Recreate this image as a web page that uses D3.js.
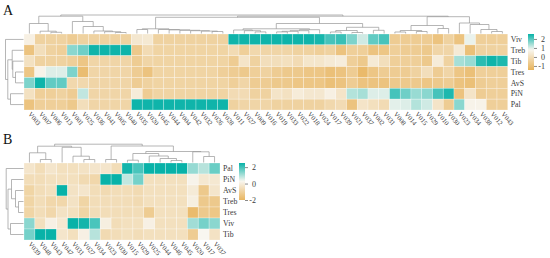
<!DOCTYPE html>
<html>
<head>
<meta charset="utf-8">
<script src="https://cdn.jsdelivr.net/npm/d3@7/dist/d3.min.js"></script>
<style>
    html, body { margin: 0; padding: 0; background: #fff; }
    svg { display: block; font-family: "Liberation Serif", serif; }
</style>
</head>
<body>
<svg id="chart" width="550" height="258"></svg>
<script>
// Panel A
const colsA = ["V003","V007","V006","V013","V001","V025","V036","V041","V005","V040","V035","V020","V045","V044","V004",
    "V042","V032","V026","V028","V011","V027","V009","V016","V019","V033","V022","V018","V024","V017","V039",
    "V021","V037","V002","V031","V008","V014","V015","V029","V010","V030","V023","V034","V038","V012","V043"];
const rowsA = ["Viv","Treb","Tib","Tres","AvS","PiN","Pal"];

const vivA  = [.6,-.4,-.4,-.4,-.6,-.4,-.4,-.4,-.4,-.4,.3,.35,-.4,-.4,-.4,-.4,-.4,-.4,-.4,2.5,2.5,2.5,2.5,2.5,2.5,2.5,2.5,2.45,2.1,2.2,1.7,1.1,1.9,2.1,-.6,-.6,-.6,-.6,-.9,-.4,-.9,.9,-.5,-.5,-.5];
const trebA = [-.9,0,-.4,-.5,1.6,1.8,2.5,2.5,2.5,2.5,-.7,-.1,-.35,-.35,-.35,-.35,-.35,-.35,-.35,-.1,-.5,-.2,-.3,-.3,-.3,-.4,-.4,-.5,-.4,-.9,-.5,-.5,-.9,-.8,-.5,-.6,-.6,-.7,-.3,-.3,.4,-1,-.4,-.4,-.4];
const tibA  = [.1,-.4,-.4,-.4,-.5,-.8,-.3,-.3,-.3,-.3,-.6,-.3,-.35,-.35,-.35,-.35,-.35,-.35,-.35,-.6,.2,-.4,0,0,.05,-.1,.25,.25,.4,.5,-.5,-.7,.4,0,-.5,-.5,-.5,-.7,.45,-.4,1.4,1.5,2.3,2.5,2.4];
const tresA = [-.8,.7,1,1,1.7,-1.1,-.3,-.3,-.3,-.3,-.6,-.9,-.35,-.35,-.35,-.35,-.35,-.35,-.5,-.6,-.7,-.5,-.4,-.6,-.7,-.7,-.8,-.8,-1,-.9,-.6,-1.2,-.8,-.6,-.6,-.6,-.4,0,-.6,-.3,-.8,-1,-.5,-.5,-.5];
const avsA  = [1.7,2.5,1.9,1.9,-.2,-.2,-.3,-.3,-.3,-.3,-.6,-.4,-.35,-.35,-.35,-.35,-.35,-.35,-.35,-.5,-.3,-.6,-.6,-.7,-.7,-.8,-.8,-.8,-1,-.9,-.6,-.9,-.9,-.9,-.7,-.7,-.7,-.8,-.7,-.6,-.9,-1,-.6,-.5,-.5];
const pinA  = [.1,-.5,-.5,-.4,-.6,1.2,-.3,-.3,-.3,-.3,.45,-.6,-.35,-.35,-.35,-.35,-.35,-.35,-.35,-.1,-.1,-.4,-.4,.2,.1,.45,.3,.3,.6,.2,1.3,1.4,1,1,2.1,1.8,1.5,1.6,2.1,2.4,-.9,.2,-.6,-.5,-.5];
const palA  = [-.9,-.5,-.5,-.5,-.7,0,-.3,-.3,-.3,-.3,2.5,2.5,2.5,2.5,2.5,2.5,2.5,2.5,2.5,-.4,-.3,-.3,-.3,-.4,-.4,-.4,-.4,-.4,-.2,-.1,-.9,.2,.05,-.1,.95,1,1.3,1.1,.2,-.6,1.6,.7,.7,-.5,-.5];

const tickA = [2, 1, 0, -1];

// merges are [distance, left, right], a leaf is just its label
const topTreeA = [18.5,
    [17.3,
        [10, "V003", [2.3, "V007", [1.2, "V006", "V013"]]],
        [12, "V001", [7, "V025", [2.5, "V036", [1.8, "V041", [1, "V005", "V040"]]]]]],
    [17.3,
        [16.2,
            [4.7, [4, "V035", "V020"],
                [4, "V045", [3.6, "V044", [3.2, "V004", [2.8, "V042", [2.4, "V032", [2, "V026", "V028"]]]]]]],
            [10,
                [4.7,
                    [3.5, "V011", [2.8, "V027", [1.6, "V009", "V016"]]],
                    [3.8, [2.8, [2.2, [1.6, "V019", "V033"], "V022"], "V018"], "V024"]],
                [6.2,
                    [3, [1.5, "V017", "V039"], [1, "V021", "V037"]],
                    [3.2, "V002", "V031"]]]],
        [16.8,
            [8,
                [3, [1.5, "V008", "V014"], [2, "V015", "V029"]],
                [5, "V010", "V030"]],
            [10.5, "V023", [9, "V034", [4, "V038", [2, "V012", "V043"]]]]]]];

const sideTreeA = [18, "Viv",
    [15.7,
        [11.3, "Treb", [10.7, "Tib", [8, "Tres", "AvS"]]],
        [13, "PiN", "Pal"]]];

// Panel B
const colsB = ["V039","V048","V043","V047","V031","V027","V034","V023","V030","V015","V029","V025","V044","V046","V045","V020","V017","V037"];
const rowsB = ["Pal","PiN","AvS","Treb","Tres","Viv","Tib"];

const palB  = [-.3,-.6,-.3,-.5,-.5,-.4,-.3,-.3,-.6,2.4,1.9,2.5,2.5,2.5,2.5,1.2,.9,1.6];
const pinB  = [-.6,-.6,-.5,-.5,-.5,-.7,-.8,2.5,2.5,.8,1.5,-.5,-.5,-.5,-.5,.2,-.2,-.2];
const avsB  = [-.9,-.6,-.5,2.5,-.4,-.3,-.6,-.7,-.6,-.6,-.7,-.5,-.5,-.5,-.5,-.1,-1.3,-.3];
const trebB = [-.9,-.6,-.8,-.8,-.4,-.9,-.6,-.6,-.6,-.6,-.7,-.5,-.5,-.5,-.5,.05,-1.3,-1.3];
const tresB = [-.9,-.6,-.8,-.4,-.5,-.9,-.6,-.6,-.6,-.6,-.6,-1.2,-.5,-.5,-.5,-1.8,-1.3,-1.4];
const vivB  = [1.3,-.5,.1,-.2,2.5,2.4,1.9,.05,-.6,-.5,-.5,.1,-.5,-.5,-.5,1.1,1.5,1.3];
const tibB  = [1.5,2.5,2.5,-.3,-.5,.1,.9,-.7,-.6,-.5,-.6,-.5,-.5,-.5,-.5,-1.2,.3,-.4];

const tickB = [2, 0, -2];

const topTreeB = [18.3,
    [16.3,
        [9.7, "V039", [3, "V048", "V043"]],
        [15.2, "V047", [6.3, "V031", [3, "V027", "V034"]]]],
    [16.5,
        [3, "V023", "V030"],
        [11,
            [9,
                [2.3, "V015", "V029"],
                [6.5, "V025", [4, "V044", [2, "V046", "V045"]]]],
            [10.7, "V020", [6, "V017", "V037"]]]]];

const sideTreeB = [17.3, "Pal",
    [15.5,
        [12, "PiN", [8, "AvS", [5, "Treb", "Tres"]]],
        [13, "Viv", "Tib"]]];

const svg = d3.select("#chart");
const teal = "#08b2a8", pale = "#f8f6f0", orange = "#e8b35a";
const lineColor = "#969696", textColor = "#3a3a3a";

// walks the merge tree through d3.hierarchy and draws the elbows
function drawTree(tree, leafPos, distPos, flip) {
    const root = d3.hierarchy(tree, d => Array.isArray(d) ? d.slice(1) : null);
    root.eachAfter(n => {
        n.pos = n.children ? d3.mean(n.children, c => c.pos) : leafPos(n.data);
        n.dist = n.children ? distPos(n.data[0]) : distPos(0);
    });
    const elbow = n => {
        const a = n.children[0], b = n.children[1];
        const p = d3.path();
        if (flip) {
            p.moveTo(a.dist, a.pos); p.lineTo(n.dist, a.pos);
            p.lineTo(n.dist, b.pos); p.lineTo(b.dist, b.pos);
        } else {
            p.moveTo(a.pos, a.dist); p.lineTo(a.pos, n.dist);
            p.lineTo(b.pos, n.dist); p.lineTo(b.pos, b.dist);
        }
        return p.toString();
    };
    svg.append("g").selectAll("path")
        .data(root.descendants().filter(n => n.children))
        .join("path")
        .attr("d", elbow)
        .attr("fill", "none")
        .attr("stroke", lineColor)
        .attr("stroke-width", 0.7);
}

function drawPanel(p) {
    const x = d3.scaleBand().domain(p.cols).range([p.left, p.right]);
    const y = d3.scaleBand().domain(p.rows).range([p.top, p.bottom]);
    const color = d3.scaleLinear().domain(p.stops).range([orange, pale, teal]).clamp(true);

    const cells = p.rows.flatMap((r, i) => p.cols.map((c, j) => ({ r, c, v: p.values[i][j] })));
    svg.append("g").selectAll("rect")
        .data(cells)
        .join("rect")
        .attr("x", d => x(d.c))
        .attr("y", d => y(d.r))
        .attr("width", x.bandwidth())
        .attr("height", y.bandwidth())
        .attr("fill", d => color(d.v))
        .attr("stroke", "#fff")
        .attr("stroke-opacity", 0.45)
        .attr("stroke-width", 0.6);

    // dendrograms, top one grows up from the heatmap, side one to the left
    const up = d3.scaleLinear().domain([0, 20]).range([p.top - 0.5, p.top - 20.5]);
    const lf = d3.scaleLinear().domain([0, 20]).range([p.left - 0.5, p.left - 20.5]);
    drawTree(p.topTree, d => x(d) + x.bandwidth() / 2, up, false);
    drawTree(p.sideTree, d => y(d) + y.bandwidth() / 2, lf, true);

    svg.append("g").selectAll("text")
        .data(p.rows)
        .join("text")
        .attr("x", p.right + 3)
        .attr("y", d => y(d) + y.bandwidth() / 2)
        .attr("dy", "0.35em")
        .attr("font-size", 7.8)
        .attr("fill", textColor)
        .text(d => d);

    svg.append("g").selectAll("text")
        .data(p.cols)
        .join("text")
        .attr("transform", d => `translate(${x(d) + x.bandwidth() / 2},${p.bottom + 3}) rotate(50)`)
        .attr("dy", "0.3em")
        .attr("font-size", 6.8)
        .attr("fill", textColor)
        .text(d => d);

    // colour key
    const keyScale = d3.scaleLinear().domain(p.keyDomain).range([p.keyBottom, p.top]);
    const grad = svg.append("defs").append("linearGradient")
        .attr("id", p.id)
        .attr("x1", 0).attr("y1", 1).attr("x2", 0).attr("y2", 0);
    grad.selectAll("stop")
        .data(d3.range(0, 1.01, 0.05))
        .join("stop")
        .attr("offset", d => d)
        .attr("stop-color", d => color(p.keyDomain[0] + d * (p.keyDomain[1] - p.keyDomain[0])));
    svg.append("rect")
        .attr("x", p.keyX)
        .attr("y", p.top)
        .attr("width", 6)
        .attr("height", p.keyBottom - p.top)
        .attr("fill", `url(#${p.id})`);

    const keyAxis = svg.append("g")
        .attr("transform", `translate(${p.keyX + 6},0)`)
        .call(d3.axisRight(keyScale).tickValues(p.ticks).tickSize(3).tickFormat(d => d));
    keyAxis.select(".domain").remove();
    keyAxis.selectAll("line").attr("stroke", textColor).attr("stroke-width", 0.6);
    keyAxis.selectAll("text")
        .attr("x", 11)
        .attr("text-anchor", "end")
        .attr("font-family", "Liberation Serif")
        .attr("font-size", 8)
        .attr("fill", textColor);

    svg.append("text")
        .attr("x", 3)
        .attr("y", p.top - 19)
        .attr("font-size", 14)
        .attr("fill", "#111")
        .text(p.name);
}

drawPanel({
    id: "keyA", name: "A",
    cols: colsA, rows: rowsA,
    values: [vivA, trebA, tibA, tresA, avsA, pinA, palA],
    topTree: topTreeA, sideTree: sideTreeA,
    left: 24, right: 507.75, top: 34, bottom: 110,
    stops: [-1.45, 0.8, 2.55],
    keyDomain: [-1.45, 2.55], keyX: 528, keyBottom: 70, ticks: tickA
});

drawPanel({
    id: "keyB", name: "B",
    cols: colsB, rows: rowsB,
    values: [palB, pinB, avsB, trebB, tresB, vivB, tibB],
    topTree: topTreeB, sideTree: sideTreeB,
    left: 24, right: 220, top: 163, bottom: 240,
    stops: [-2.1, 0.3, 2.5],
    keyDomain: [-2, 2.5], keyX: 239, keyBottom: 200, ticks: tickB
});
</script>
</body>
</html>
